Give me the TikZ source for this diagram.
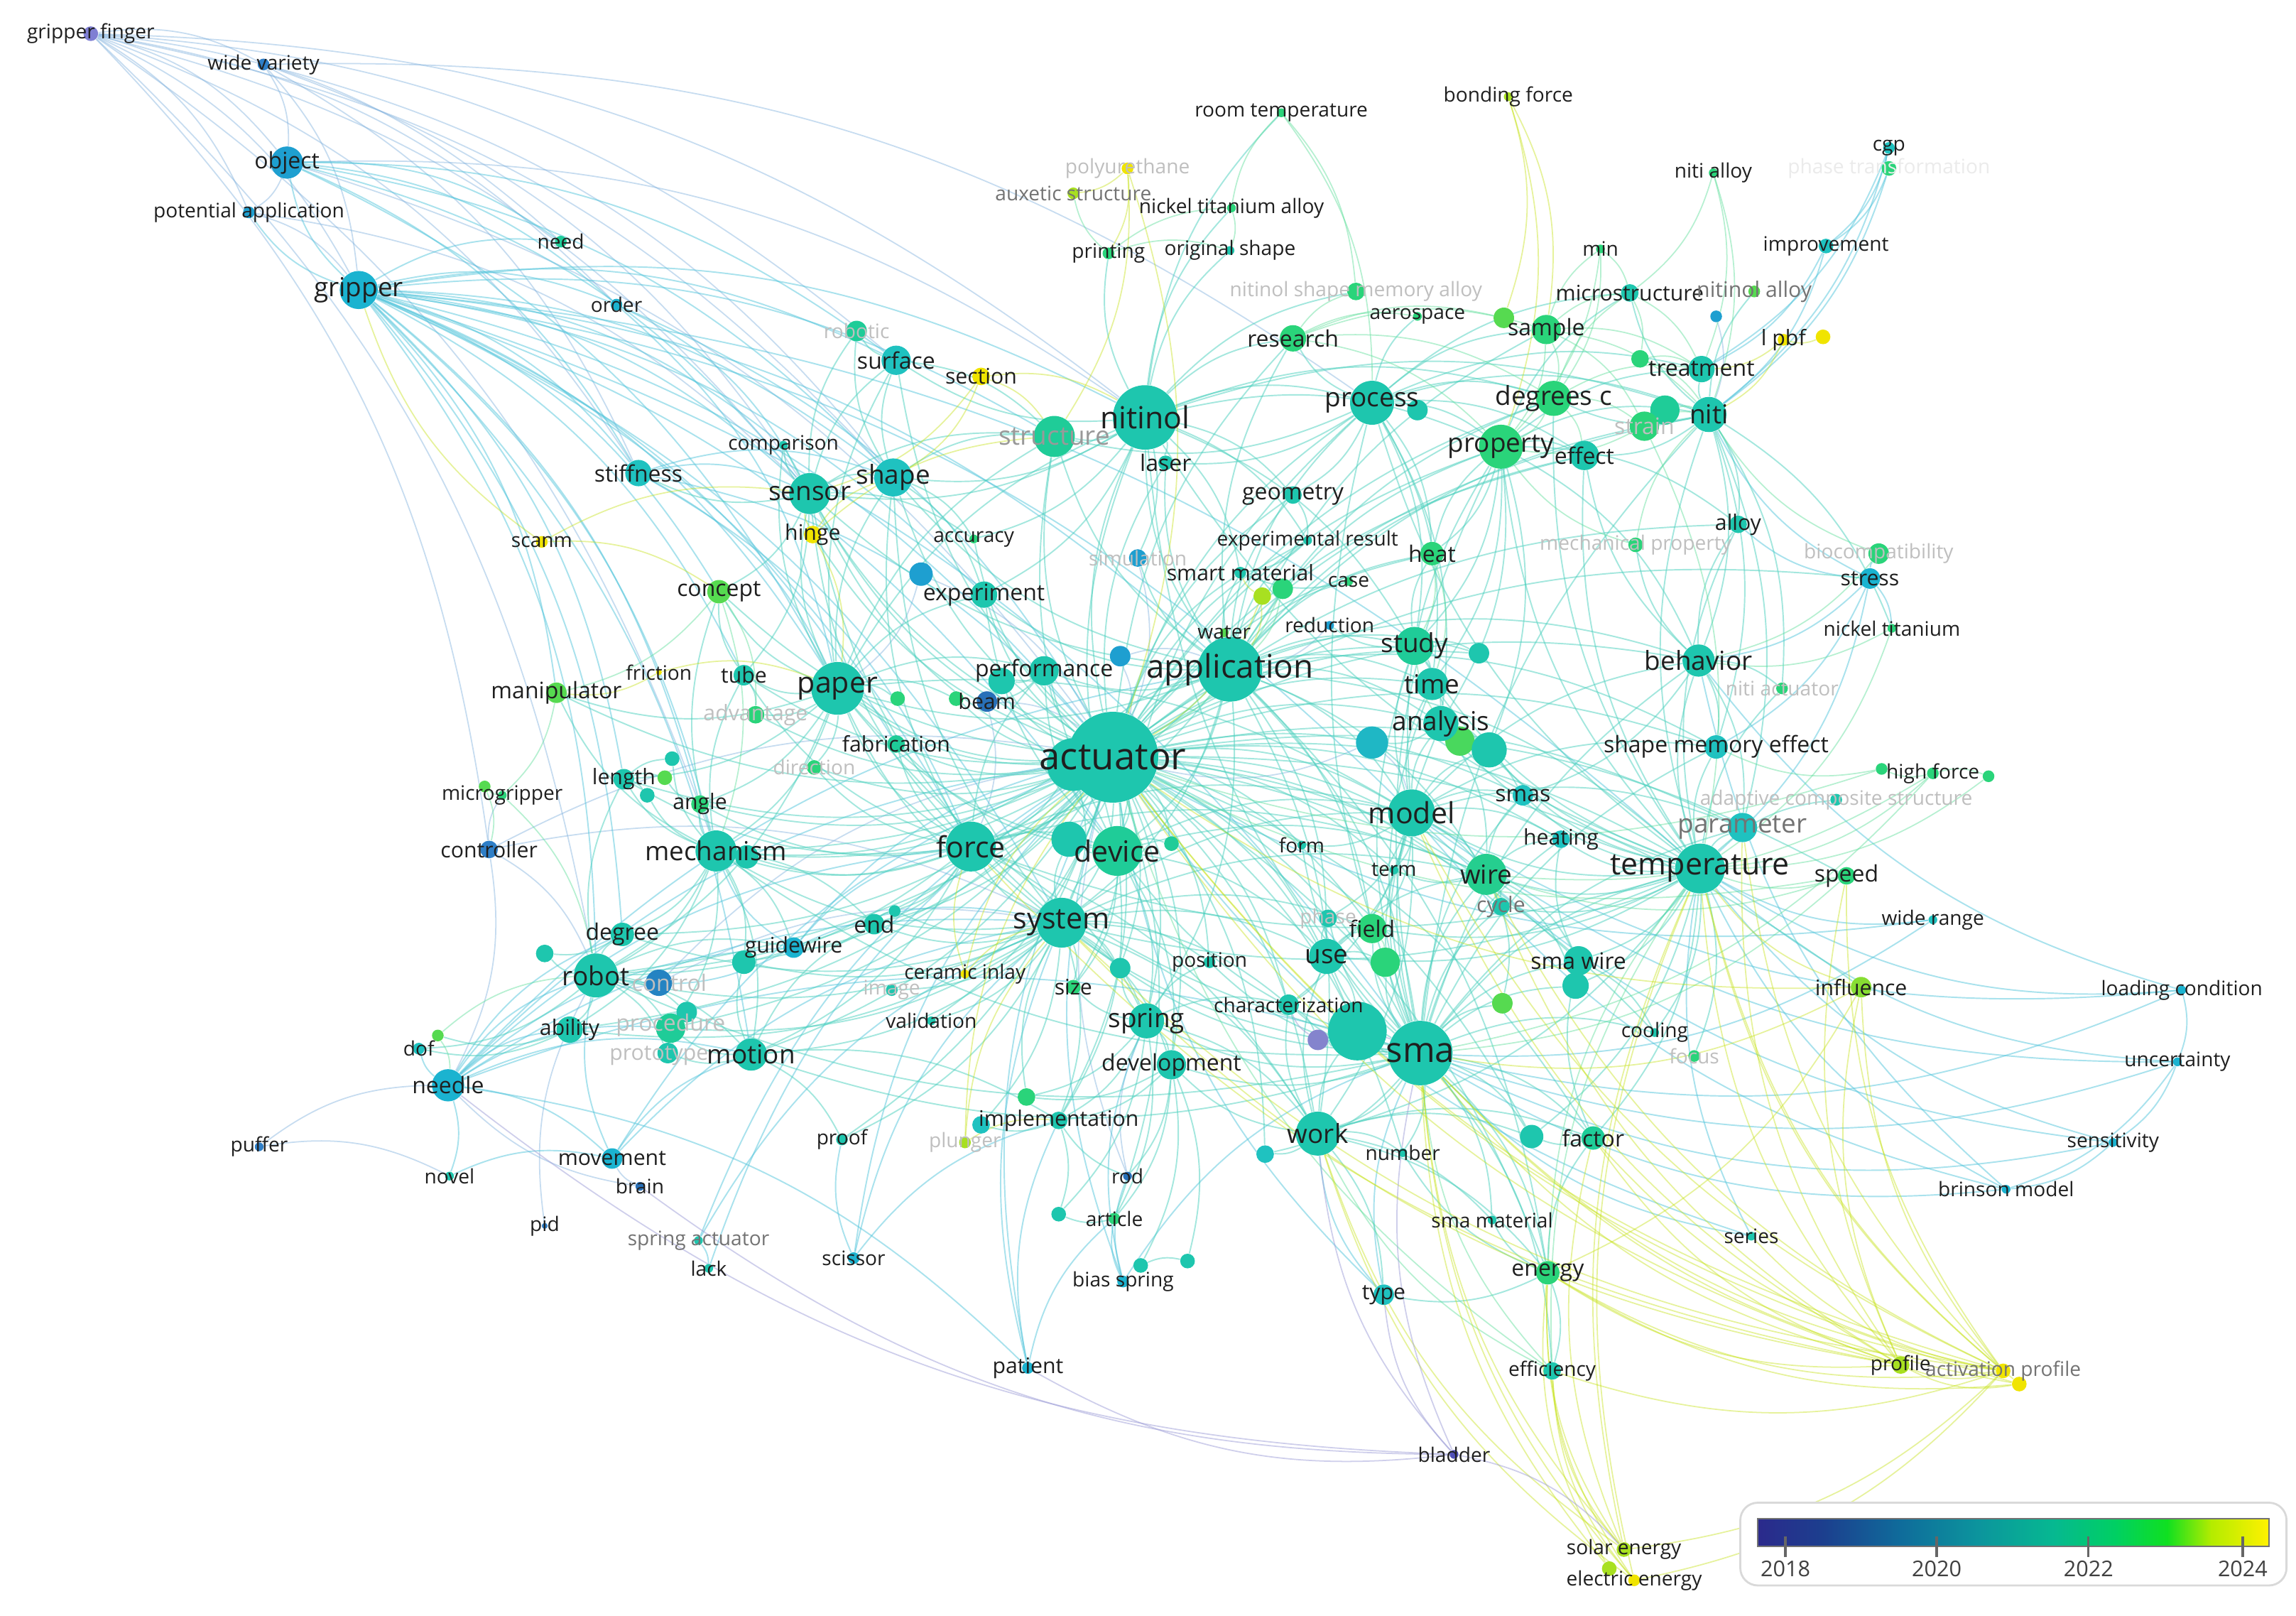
\documentclass[tikz,border=0pt]{standalone}
\usepackage{fontspec}
\setmainfont{Open Sans}
\pgfdeclarelayer{bgw}\pgfdeclarelayer{edges}\pgfdeclarelayer{labels}
\pgfsetlayers{bgw,edges,main,labels}
\definecolor{cA}{HTML}{4848C0}
\definecolor{cB}{HTML}{2F7FC8}
\definecolor{cC}{HTML}{1E9FD0}
\definecolor{cD}{HTML}{1BB3D0}
\definecolor{cE}{HTML}{1FC2C0}
\definecolor{cF}{HTML}{1EC6AE}
\definecolor{cG}{HTML}{1FCC98}
\definecolor{cH}{HTML}{2AD47A}
\definecolor{cI}{HTML}{56DA50}
\definecolor{cJ}{HTML}{A8E020}
\definecolor{cK}{HTML}{F0E400}
\definecolor{cP}{HTML}{5050B8}
\definecolor{cN}{HTML}{2870B8}
\definecolor{lg0}{HTML}{2B2A8C}
\definecolor{lg1}{HTML}{1C3F8E}
\definecolor{lg2}{HTML}{0F6C9B}
\definecolor{lg3}{HTML}{0C949D}
\definecolor{lg4}{HTML}{06B891}
\definecolor{lg5}{HTML}{00D062}
\definecolor{lg6}{HTML}{10E020}
\definecolor{lg7}{HTML}{B4EC00}
\definecolor{lg8}{HTML}{FFF100}
\tikzset{
 dot/.style={circle,inner sep=0pt,draw=none},
 lab/.style={inner sep=0pt,text=black!88},
 s8/.style={lab,font=\fontsize{8}{9}\selectfont},
 s86/.style={lab,font=\fontsize{8.6}{10}\selectfont},
 s9/.style={lab,font=\fontsize{9.1}{10.5}\selectfont},
 l3/.style={lab,font=\fontsize{10.5}{12}\selectfont},
 l4/.style={lab,font=\fontsize{11.7}{13}\selectfont},
 l5/.style={lab,font=\fontsize{12.2}{14}\selectfont},
 l6/.style={lab,font=\fontsize{13}{15}\selectfont},
 l7/.style={lab,font=\fontsize{14}{16}\selectfont},
 l8/.style={lab,font=\fontsize{15}{17}\selectfont},
 faint/.style={text=black!25},
 vfaint/.style={text=black!8},
 mid/.style={text=black!55},
 eT/.style={draw=cF!80!white,line width=0.55pt,opacity=0.5},
 eB/.style={draw=cB!60!white,line width=0.5pt,opacity=0.45},
 eC/.style={draw=cD!75!white,line width=0.55pt,opacity=0.5},
 eG/.style={draw=cH!75!white,line width=0.5pt,opacity=0.45},
 eY/.style={draw=cJ!60!cK,line width=0.5pt,opacity=0.42},
 eP/.style={draw=cP!55!white,line width=0.5pt,opacity=0.5},
 yr/.style={inner sep=0pt,text=black!75,font=\fontsize{8.7}{10}\selectfont}
}
\newcommand\kw[7]{%
 \node[dot,fill=#5,minimum size=#4*0.041238cm] (#1) at (#2,#3) {};%
 \begin{pgfonlayer}{labels}\node[#6] (#1-l) at (#1.center) {#7};\end{pgfonlayer}}
\newcommand\kwo[9]{%
 \node[dot,fill=#5,minimum size=#4*0.041238cm] (#1) at (#2,#3) {};%
 \begin{pgfonlayer}{labels}\node[#6] (#1-l) at ([shift={(#8,#9)}]#1.center) {#7};\end{pgfonlayer}}
\newcommand\dt[5]{\node[dot,fill=#5,minimum size=#4*0.041238cm] (#1) at (#2,#3) {};}
\begin{document}
\begin{tikzpicture}[x=0.020619cm,y=-0.020619cm]
\useasboundingbox (0,0) rectangle (1568,1103);
\begin{pgfonlayer}{bgw}\fill[white] (0,0) rectangle (1568,1103);\end{pgfonlayer}
% ---------------- nodes ----------------
\kw{grf}{62}{23}{5}{cA!70!white}{s8}{gripper finger}
\kw{wvar}{180}{44}{4}{cB}{s8}{wide variety}
\kw{obj}{196}{111}{11}{cC}{s9}{object}
\kw{potapp}{170}{145}{4}{cC}{s8}{potential application}
\kw{grip}{245}{198}{13}{cD}{l3}{gripper}
\kw{need}{383}{165}{4}{cG}{s8}{need}
\kw{order}{421}{208}{4}{cD}{s8}{order}
\kw{stiff}{436}{323}{9}{cE}{s9}{stiffness}
\kw{scanm}{370}{370}{4}{cK}{s8}{scanm}
\kw{robotic}{585}{226}{7}{cG}{s8,faint}{robotic}
\kw{surf}{612}{246}{10}{cE}{s9}{surface}
\kw{sect}{670}{257}{6}{cK}{s86}{section}
\kw{comp}{535}{304}{3}{cF}{s8}{comparison}
\kw{sensor}{553}{337}{14}{cF}{l3}{sensor}
\kw{shape}{610}{326}{13}{cE}{l3}{shape}
\kw{struct}{720}{298}{14}{cG}{l3,text=black!40}{structure}
\kw{nitinol}{782}{285}{22}{cF}{l5}{nitinol}
\kw{laser}{796}{316}{5}{cF}{s9}{laser}
\kw{hinge}{555}{365}{6}{cK}{s86}{hinge}
\kw{accur}{665}{368}{3}{cH}{s8}{accuracy}
\kw{concept}{491}{404}{8}{cI}{s9}{concept}
\kw{expt}{672}{406}{9}{cF}{s9}{experiment}
\dt{exptb}{629}{392}{8}{cC}
\kw{frict}{450}{459}{2}{cK}{s8}{friction}
\kw{manip}{380}{473}{7}{cI}{s9}{manipulator}
\kw{tube}{508}{461}{7}{cF}{s86}{tube}
\kw{paper}{572}{470}{18}{cF}{l4}{paper}
\kw{adv}{516}{488}{6}{cH}{s86,faint}{advantage}
\dt{gdot1}{613}{477}{5}{cH}
\dt{gdot2}{653}{477}{5}{cH}
\kw{beam}{674}{479}{7}{cN}{s86}{beam}
\dt{perf2}{684}{465}{9}{cF}
\kw{perf}{713}{458}{10}{cF}{s9}{performance}
\dt{bdot4}{765}{448}{7}{cC}
\kw{fabr}{612}{508}{6}{cG}{s86}{fabrication}
\kw{direct}{556}{524}{5}{cH}{s8,faint}{direction}
\dt{act2}{733}{522}{18}{cF}
\kw{act}{760}{517}{31}{cF}{l8}{actuator}
\kw{appl}{840}{457}{22}{cF}{l6}{application}
\kw{smartm}{847}{391}{4}{cF}{s86}{smart material}
\dt{ydot}{862}{407}{6}{cJ}
\dt{gdot3}{876}{402}{7}{cH}
\kw{case}{921}{397}{3}{cH}{s8}{case}
\kw{reduc}{908}{427}{3}{cC}{s8}{reduction}
\kw{water}{836}{432}{3}{cI}{s8}{water}
\kw{expres}{893}{369}{3}{cF}{s8}{experimental result}
\kw{geom}{883}{338}{6}{cF}{s9}{geometry}
\kw{heat}{978}{378}{8}{cH}{s9}{heat}
\kw{simul}{777}{381}{6}{cC}{s8,faint}{simulation}
\kw{study}{966}{441}{13}{cG}{l3}{study}
\dt{tdot1}{1010}{446}{7}{cF}
\kw{time}{978}{467}{11}{cF}{l3}{time}
\dt{gdot4}{997}{506}{10}{cI!70!cH}
\dt{bdot1}{937}{507}{11}{cE!70!cC}
\dt{tdot2}{1017}{512}{12}{cF}
\kw{anal}{984}{494}{12}{cF}{l3}{analysis}
\kw{process}{937}{275}{15}{cF}{l3}{process}
\dt{tdot3}{968}{280}{7}{cF}
\kw{research}{883}{231}{9}{cH}{s9}{research}
\kw{nsma}{926}{199}{6}{cH}{s8,faint}{nitinol shape memory alloy}
\kw{aero}{968}{216}{3}{cH}{s8}{aerospace}
\dt{gdot5}{1027}{217}{7}{cI}
\kw{sample}{1056}{225}{10}{cH}{s9}{sample}
\kw{min}{1093}{170}{3}{cH}{s8}{min}
\kw{micro}{1113}{200}{6}{cF}{s86}{microstructure}
\kw{nalloy}{1198}{199}{4}{cI}{s86,mid}{nitinol alloy}
\dt{bdot3}{1172}{216}{4}{cC}
\kw{degc}{1061}{272}{12}{cH}{l3}{degrees c}
\kw{prop}{1025}{305}{15}{cH}{l3}{property}
\kw{effect}{1082}{311}{10}{cF}{s9}{effect}
\dt{strain2}{1137}{280}{10}{cG}
\kw{strain}{1123}{291}{10}{cH}{s9,faint}{strain}
\kw{niti}{1167}{283}{12}{cF}{l3}{niti}
\dt{gdot6}{1120}{245}{6}{cH}
\kw{treat}{1162}{252}{9}{cF}{s9}{treatment}
\kw{lpbf}{1218}{232}{4}{cK}{s86}{l pbf}
\dt{lpbf2}{1245}{230}{5}{cK}
\kw{improv}{1247}{168}{5}{cE}{s8}{improvement}
\kw{cgp}{1290}{101}{4}{cE}{s8}{cgp}
\kw{phtr}{1290}{115}{5}{cH}{s8,vfaint}{phase transformation}
\kw{nialloy}{1170}{118}{3}{cH}{s8}{niti alloy}
\kw{roomt}{875}{77}{3}{cH}{s8}{room temperature}
\kw{bondf}{1030}{66}{3}{cJ}{s8}{bonding force}
\kw{polyu}{770}{115}{4}{cK}{s8,faint}{polyurethane}
\kw{auxet}{733}{132}{4}{cJ}{s8,mid}{auxetic structure}
\kw{nta}{841}{142}{3}{cH}{s8}{nickel titanium alloy}
\kw{print}{757}{173}{4}{cH}{s8}{printing}
\kw{origs}{840}{171}{3}{cF}{s8}{original shape}
\kw{alloy}{1187}{358}{6}{cF}{s86}{alloy}
\kw{mechp}{1117}{372}{5}{cH}{s8,faint}{mechanical property}
\kw{biocomp}{1283}{378}{7}{cH}{s8,faint}{biocompatibility}
\kw{stress}{1277}{395}{7}{cD}{s86}{stress}
\kw{nickt}{1292}{429}{3}{cH}{s8}{nickel titanium}
\kw{behav}{1160}{451}{11}{cF}{l3}{behavior}
\kw{nact}{1217}{470}{4}{cH}{s8,faint}{niti actuator}
\kw{sme}{1172}{510}{8}{cE}{s9}{shape memory effect}
\dt{hf1}{1285}{525}{4}{cH}
\dt{hf2}{1358}{530}{4}{cH}
\kw{hforce}{1320}{528}{4}{cH}{s8}{high force}
\kw{acs}{1254}{546}{4}{cF}{s8,faint}{adaptive composite structure}
\kw{param}{1190}{565}{10}{cE}{l3,mid}{parameter}
\kw{temp}{1161}{593}{17}{cF}{l5}{temperature}
\kw{speed}{1261}{598}{6}{cH}{s9}{speed}
\kw{wrange}{1320}{628}{3}{cE}{s8}{wide range}
\kw{influ}{1271}{674}{7}{cJ!60!cI}{s86}{influence}
\kw{loadc}{1490}{676}{3}{cD}{s8}{loading condition}
\kw{uncert}{1487}{725}{3}{cD}{s8}{uncertainty}
\kw{sensit}{1443}{780}{3}{cD}{s8}{sensitivity}
\kw{brinson}{1370}{812}{3}{cD}{s8}{brinson model}
\kw{series}{1196}{844}{3}{cF}{s8}{series}
\kw{profile}{1298}{932}{6}{cJ}{s8}{profile}
\dt{actp2}{1379}{945}{5}{cK}
\kw{actp}{1368}{936}{5}{cK}{s8,mid}{activation profile}
\dt{tdot4}{1046}{776}{8}{cF}
\kw{factor}{1088}{777}{8}{cG}{s9}{factor}
\dt{tdot5}{864}{788}{6}{cE}
\kw{work}{900}{774}{15}{cF}{l3}{work}
\kw{number}{958}{787}{3}{cF}{s8}{number}
\kw{smamat}{1019}{833}{3}{cF}{s8}{sma material}
\kw{energy}{1057}{869}{8}{cH}{s9}{energy}
\kw{type}{945}{884}{7}{cE}{s86}{type}
\kw{effic}{1060}{936}{6}{cF}{s8}{efficiency}
\kw{bladder}{993}{993}{3}{cP}{s8}{bladder}
\dt{ldot}{1099}{1071}{5}{cJ}
\kw{solar}{1109}{1058}{5}{cJ}{s8}{solar energy}
\kw{elec}{1116}{1079}{4}{cK}{s8}{electric energy}
\dt{bigdot}{927}{704}{20}{cF}
\dt{pdot}{900}{710}{7}{cP!70!white}
\kw{sma}{970}{719}{22}{cF}{l7}{sma}
\kw{charz}{880}{686}{7}{cF}{s8}{characterization}
\dt{gdot7}{946}{657}{10}{cH}
\kw{use}{906}{653}{12}{cF}{l3}{use}
\kw{field}{937}{634}{10}{cH}{s9}{field}
\kw{phase}{907}{627}{6}{cF}{s8,faint}{phase}
\kw{form}{889}{577}{3}{cF}{s8}{form}
\kw{term}{952}{594}{3}{cF}{s8}{term}
\kw{cycle}{1025}{619}{6}{cF}{s86,mid}{cycle}
\kw{wire}{1015}{597}{14}{cH!60!cF}{l3}{wire}
\kw{model}{964}{555}{16}{cF}{l4}{model}
\kw{smas}{1040}{543}{7}{cE}{s9}{smas}
\kw{heating}{1066}{573}{6}{cE}{s86}{heating}
\dt{tdot6}{1076}{673}{9}{cF}
\kw{smawire}{1078}{656}{10}{cF}{s9}{sma wire}
\dt{gdot8}{1026}{685}{7}{cI}
\kw{cooling}{1130}{705}{3}{cF}{s8}{cooling}
\kw{focus}{1157}{721}{4}{cH}{s8,faint}{focus}
\kw{position}{826}{657}{4}{cF}{s8}{position}
\kw{spring}{783}{697}{12}{cF}{l3}{spring}
\kw{devel}{800}{727}{10}{cF}{s9}{development}
\dt{dev2}{730}{573}{12}{cF}
\dt{tdot7}{800}{576}{5}{cG}
\kw{device}{763}{581}{17}{cG}{l4}{device}
\kw{system}{725}{630}{17}{cF}{l4}{system}
\kw{force}{663}{578}{17}{cF}{l4}{force}
\dt{tdot8}{611}{622}{4}{cF}
\kw{end}{597}{631}{7}{cF}{s9}{end}
\dt{tdot9}{508}{657}{8}{cF}
\kw{guide}{542}{647}{7}{cD}{s86}{guidewire}
\kw{ceram}{659}{665}{3}{cK}{s8}{ceramic inlay}
\kw{image}{609}{676}{4}{cF}{s8,faint}{image}
\kw{valid}{636}{697}{3}{cF}{s8}{validation}
\kw{size}{733}{674}{5}{cH}{s86}{size}
\dt{tdot10}{765}{661}{7}{cF}
\dt{mech2}{510}{585}{8}{cF}
\kw{mech}{489}{581}{14}{cF}{l3}{mechanism}
\dt{tdot11}{459}{518}{5}{cF}
\dt{gdot9}{454}{531}{5}{cI}
\dt{tdot12}{442}{543}{5}{cF}
\kw{length}{426}{532}{7}{cF}{s86}{length}
\kw{angle}{478}{549}{6}{cH}{s86}{angle}
\dt{gdot11}{331}{537}{4}{cI}
\kw{mgrip}{343}{543}{3}{cH}{s8}{microgripper}
\kw{ctrl}{334}{580}{6}{cB}{s86}{controller}
\kw{degree}{425}{638}{8}{cF}{s9}{degree}
\dt{tdot13}{372}{651}{6}{cF}
\kwo{control}{450}{671}{9}{cN!60!cC}{s9,faint}{control}{7}{0}
\kw{robot}{407}{666}{15}{cF}{l3}{robot}
\kw{ability}{389}{703}{9}{cF}{s86}{ability}
\dt{gdot10}{299}{707}{4}{cI}
\kw{dof}{286}{716}{4}{cE}{s8}{dof}
\kw{needle}{306}{741}{11}{cD}{s9}{needle}
\dt{proc2}{469}{691}{7}{cF}
\kwo{proc}{458}{702}{10}{cG}{s9,faint}{procedure}{0}{-2}
\kwo{proto}{456}{719}{7}{cF}{s86,faint}{prototype}{-6}{2}
\kw{motion}{513}{720}{11}{cF}{l3}{motion}
\dt{impl1}{701}{749}{6}{cH}
\dt{impl2}{670}{768}{6}{cE}
\kw{impl}{723}{765}{6}{cF}{s86}{implementation}
\kw{plunger}{659}{780}{4}{cJ}{s8,faint}{plunger}
\kw{proof}{575}{778}{4}{cF}{s8}{proof}
\kw{rod}{770}{803}{3}{cN}{s8}{rod}
\dt{tdot14}{723}{829}{5}{cF}
\kw{article}{761}{832}{4}{cH}{s8}{article}
\dt{bias2}{779}{864}{5}{cF}
\dt{bias3}{811}{861}{5}{cF}
\kw{bias}{767}{875}{4}{cD}{s8}{bias spring}
\kw{patient}{702}{934}{4}{cD}{s86}{patient}
\kw{scissor}{583}{859}{4}{cD}{s8}{scissor}
\kw{springact}{477}{847}{3}{cF}{s8,mid}{spring actuator}
\kw{lack}{484}{866}{3}{cF}{s8}{lack}
\kw{pid}{372}{837}{2}{cB}{s8}{pid}
\kw{brain}{437}{810}{3}{cN}{s8}{brain}
\kw{movement}{418}{791}{7}{cD}{s86}{movement}
\kw{novel}{307}{803}{3}{cF}{s8}{novel}
\kw{puffer}{177}{783}{3}{cB}{s8}{puffer}
% ---------------- edges ----------------
\begin{pgfonlayer}{edges}
\foreach \a/\b in {grf/wvar, grf/obj, grf/potapp, grf/grip, grf/stiff, grf/sensor, grf/mech, grf/robot, grf/need, grf/ctrl, grf/surf, grf/shape, grf/nitinol, grf/order,
 wvar/obj, wvar/grip, wvar/shape, wvar/sensor, wvar/stiff, wvar/process, obj/potapp, obj/nitinol, obj/act, potapp/grip, potapp/sensor,
 ctrl/robot, ctrl/act, ctrl/mgrip, ctrl/needle, ctrl/system, puffer/needle, puffer/novel, pid/robot, brain/movement, brain/needle, rod/spring, rod/act,
 exptb/act, exptb/paper, beam/act, beam/force, bdot4/appl, bdot4/act, bdot3/niti, control/robot, control/act, control/system, bdot1/model, bdot1/act, reduc/appl, simul/act}
 \draw[eB] (\a) to[bend left=18] (\b);
\foreach \a/\b in {grip/obj, grip/potapp, grip/need, grip/order, grip/stiff, grip/sensor, grip/shape, grip/paper, grip/act, grip/mech, grip/force, grip/system, grip/robot, grip/concept, grip/surf, grip/comp, grip/tube, grip/manip, grip/device, grip/appl, grip/temp, grip/sma, grip/length, grip/degree, grip/motion, grip/struct, grip/nitinol, grip/expt, grip/fabr, grip/angle, grip/model,
 obj/need, obj/order, obj/shape, obj/sensor, obj/surf, obj/stiff, obj/paper,
 needle/robot, needle/motion, needle/act, needle/system, needle/force, needle/movement, needle/dof, needle/novel, needle/ability, needle/sma, needle/guide, needle/degree, needle/appl, needle/patient, needle/proc,
 movement/robot, movement/motion, movement/act, movement/system, novel/movement, patient/act, patient/system, patient/impl, patient/article, scissor/proof, scissor/act, scissor/system, scissor/impl, guide/act, guide/system, guide/force, guide/robot, guide/mech,
 stress/behav, stress/temp, stress/niti, stress/nickt, stress/alloy, stress/sme, stress/biocomp,
 loadc/temp, loadc/uncert, loadc/sma, loadc/behav, loadc/model, uncert/sensit, uncert/temp, uncert/model, uncert/brinson, uncert/sma, sensit/temp, sensit/model, sensit/sma, sensit/brinson, brinson/temp, brinson/model, brinson/sma, brinson/behav, wrange/temp, wrange/sma, wrange/act, series/temp, series/sma, series/act,
 improv/niti, improv/treat, cgp/niti, cgp/improv, cgp/treat, phtr/niti, phtr/improv, phtr/cgp, type/work, type/sma, type/act, bias/spring, bias/act, bias/sma, bias/article, bias/rod,
 order/act, order/paper, order/sensor, stiff/paper, stiff/act, stiff/force, stiff/sensor, stiff/shape, springact/act, springact/lack, lack/act, springact/system}
 \draw[eC] (\a) to[bend left=18] (\b);
\foreach \a/\b in {act/appl, act/sma, act/temp, act/system, act/force, act/device, act/paper, act/model, act/nitinol, act/process, act/prop, act/wire, act/study, act/anal, act/mech, act/robot, act/sensor, act/shape, act/struct, act/niti, act/behav, act/spring, act/work, act/use, act/devel, act/motion, act/perf, act/fabr, act/expt, act/time, act/field, act/charz, act/smawire, act/concept, act/surf, act/tube, act/end, act/degree, act/length, act/size, act/position, act/impl, act/heat, act/research, act/geom, act/smartm, act/expres, act/smas, act/heating, act/param, act/sme, act/effect, act/degc, act/factor, act/energy, act/number, act/cooling, act/cycle, act/term, act/form, act/valid, act/ceram, act/proof, act/article, act/ability, act/proc, act/adv, act/direct, act/comp, act/laser, act/accur, act/tdot1, act/bigdot, act/tdot10, act/tdot7, act/dev2, act/act2, act/manip, act/angle, act/tdot9, act/hinge, act/stress, act/alloy, act/speed, act/influ, act/tdot4, act/tdot5, act/perf2, act/gdot2,
 act2/paper, act2/force, act2/system, act2/appl, act2/mech, act2/sensor,
 appl/sma, appl/temp, appl/system, appl/force, appl/device, appl/paper, appl/model, appl/nitinol, appl/process, appl/prop, appl/wire, appl/study, appl/anal, appl/sensor, appl/struct, appl/niti, appl/behav, appl/spring, appl/work, appl/use, appl/time, appl/heat, appl/smartm, appl/expres, appl/geom, appl/research, appl/perf, appl/water, appl/case, appl/sample, appl/degc, appl/effect, appl/mech, appl/robot, appl/field, appl/energy, appl/sme, appl/shape, appl/expt, appl/simul, appl/laser, appl/tdot1,
 sma/temp, sma/system, sma/force, sma/device, sma/paper, sma/model, sma/wire, sma/study, sma/anal, sma/spring, sma/work, sma/use, sma/charz, sma/field, sma/smawire, sma/cycle, sma/term, sma/heating, sma/cooling, sma/smas, sma/factor, sma/energy, sma/number, sma/smamat, sma/effic, sma/position, sma/devel, sma/robot, sma/motion, sma/mech, sma/param, sma/behav, sma/prop, sma/niti, sma/nitinol, sma/process, sma/sme, sma/tdot4, sma/tdot5, sma/bigdot, sma/gdot7, sma/gdot8, sma/tdot6, sma/time, sma/form, sma/phase,
 temp/system, temp/force, temp/model, temp/wire, temp/prop, temp/niti, temp/behav, temp/param, temp/sme, temp/smas, temp/heating, temp/cooling, temp/cycle, temp/smawire, temp/alloy, temp/effect, temp/degc, temp/study, temp/anal, temp/time, temp/factor, temp/work, temp/use, temp/field, temp/process, temp/nitinol, temp/tdot6, temp/tdot2, temp/tdot4, temp/focus, temp/acs, temp/nact,
 system/force, system/device, system/paper, system/model, system/spring, system/work, system/use, system/devel, system/motion, system/mech, system/robot, system/sensor, system/shape, system/end, system/size, system/position, system/impl, system/valid, system/image, system/charz, system/tdot10, system/ability, system/proc, system/degree, system/field, system/wire, system/tdot8, system/tdot9, system/proof, system/dev2, system/impl2,
 force/device, force/paper, force/model, force/spring, force/mech, force/robot, force/sensor, force/shape, force/end, force/tube, force/length, force/angle, force/fabr, force/perf, force/motion, force/wire, force/work, force/mech2, force/tdot8, force/direct,
 device/paper, device/model, device/spring, device/devel, device/impl, device/perf, device/fabr, device/expt, device/struct, device/nitinol, device/process, device/use, device/tdot7, device/size, device/wire, device/dev2,
 paper/sensor, paper/shape, paper/struct, paper/nitinol, paper/concept, paper/expt, paper/perf, paper/fabr, paper/tube, paper/adv, paper/mech, paper/manip, paper/surf, paper/gdot1, paper/gdot2, paper/length, paper/angle, paper/direct, paper/comp, paper/robot, paper/model,
 model/wire, model/study, model/anal, model/time, model/smas, model/heating, model/term, model/form, model/use, model/field, model/param, model/behav, model/sme, model/prop, model/work, model/charz, model/cycle, model/tdot2, model/phase,
 nitinol/struct, nitinol/laser, nitinol/process, nitinol/research, nitinol/print, nitinol/origs, nitinol/nta, nitinol/surf, nitinol/shape, nitinol/sensor, nitinol/geom, nitinol/expres, nitinol/smartm, nitinol/prop, nitinol/degc, nitinol/niti, nitinol/study, nitinol/roomt, nitinol/nsma, nitinol/simul, nitinol/expt, nitinol/accur,
 process/research, process/prop, process/degc, process/sample, process/micro, process/treat, process/niti, process/study, process/geom, process/laser, process/struct, process/effect, process/heat, process/aero, process/tdot3, process/time, process/anal,
 prop/effect, prop/niti, prop/micro, prop/treat, prop/alloy, prop/behav, prop/heat, prop/study, prop/anal, prop/time, prop/tdot2,
 niti/treat, niti/micro, niti/alloy, niti/behav, niti/effect, niti/degc, niti/nalloy, niti/nickt, niti/nact, niti/sme, niti/param,
 study/anal, study/time, study/heat, study/tdot1, study/reduc, time/anal, anal/tdot2, anal/bdot1, anal/gdot4, anal/smas, anal/wire,
 mech/mech2, mech/robot, mech/degree, mech/length, mech/angle, mech/motion, mech/tdot11, mech/tdot12, mech/guide, mech/tdot9, mech/ability, mech/proc, mech/manip, mech/concept, mech/tube, mech/end,
 robot/degree, robot/ability, robot/motion, robot/proc, robot/proc2, robot/proto, robot/tdot13, robot/dof, robot/guide, robot/length,
 motion/proc, motion/proto, motion/impl, motion/tdot9, motion/proof, motion/end,
 spring/devel, spring/size, spring/tdot10, spring/impl, spring/work, spring/charz, spring/position, spring/article, spring/tdot14, spring/impl1,
 work/number, work/type, work/energy, work/factor, work/tdot4, work/tdot5, work/smamat, work/devel, work/charz, work/use, work/bigdot,
 energy/effic, energy/factor, energy/smamat, energy/type, energy/number,
 use/field, use/bigdot, use/charz, use/phase, use/gdot7, use/wire,
 wire/smas, wire/heating, wire/cycle, wire/smawire, wire/term, wire/tdot6, wire/gdot8,
 behav/sme, behav/param, behav/alloy, behav/mechp, behav/nact, behav/effect, behav/smas,
 sensor/shape, sensor/surf, sensor/comp, sensor/stiff, sensor/struct, sensor/concept, sensor/tube, sensor/robotic, sensor/accur,
 shape/surf, shape/struct, shape/robotic, shape/expt, shape/accur, surf/robotic, surf/struct,
 devel/impl, devel/rod, devel/article, devel/bias2, devel/bias3, devel/impl1, impl/tdot14, impl/impl2, impl1/system,
 end/guide, end/tdot8, degree/tdot13, ability/gdot10, ability/dof, proc/proto,
 factor/tdot4, factor/smawire, smawire/tdot6, smawire/cooling, smawire/heating,
 geom/expres, expres/smartm, case/smartm, heat/prop, tube/adv, tube/concept, length/tdot11, length/gdot9, length/tdot12, angle/gdot9,
 bigdot/pdot, charz/pdot, article/tdot14, bias2/bias3, rod/impl, perf/perf2, perf/beam}
 \draw[eT] (\a) to[bend left=18] (\b);
\foreach \a/\b in {research/sample, research/prop, research/nsma, research/aero, research/degc, research/gdot5, sample/degc, sample/prop, sample/micro, sample/min, sample/gdot5, sample/treat, sample/niti, sample/strain,
 degc/prop, degc/strain, degc/effect, degc/treat, degc/micro, min/micro, min/prop, min/degc, micro/treat, micro/gdot6, strain/niti, strain/prop, strain2/niti, strain/temp, gdot6/treat, gdot6/niti,
 print/nta, print/origs, print/auxet, nta/origs, nta/roomt, roomt/nsma, roomt/process, nialloy/niti, nialloy/treat, nialloy/micro, nickt/behav, nickt/temp, biocomp/niti, biocomp/behav, mechp/niti, mechp/prop,
 hforce/temp, hforce/hf1, hforce/hf2, hf1/sme, hf2/temp, hforce/sma, hforce/wire, hf1/act, speed/temp, speed/sma, speed/act, speed/wire, energy/temp, effic/work, effic/sma, effic/temp, effic/act,
 heat/study, heat/time, gdot3/appl, gdot3/act, field/gdot7, gdot4/study, concept/manip, concept/adv, concept/mech, manip/mgrip, mgrip/gdot11, gdot11/ctrl, mgrip/robot, gdot10/robot, gdot10/needle}
 \draw[eG] (\a) to[bend left=18] (\b);
\foreach \a/\b in {actp/temp, actp/sma, actp/wire, actp/model, actp/act, actp/energy, actp/influ, actp/speed, actp/profile, actp/solar, actp/elec, actp/effic, actp/series, actp/factor, actp/system, actp/param,
 actp2/profile, actp2/temp, actp2/sma, actp2/act, actp2/energy, profile/temp, profile/sma, profile/wire, profile/model, profile/act, profile/energy, profile/force, profile/influ, profile/param, profile/speed, profile/system, profile/factor,
 solar/energy, solar/effic, solar/sma, solar/temp, solar/factor, solar/work, elec/energy, elec/work, elec/sma, elec/temp, elec/effic, ldot/energy, ldot/sma,
 bondf/sample, bondf/prop, bondf/gdot5, polyu/auxet, polyu/print, polyu/struct, polyu/act, sect/shape, sect/nitinol, sect/sensor, sect/struct, hinge/sensor, hinge/shape, hinge/paper, hinge/struct,
 scanm/grip, scanm/sensor, scanm/concept, frict/manip, frict/paper, ceram/force, ceram/system, ceram/act, lpbf/niti, lpbf/treat, lpbf2/lpbf, ydot/appl, ydot/smartm, ydot/act,
 plunger/impl, plunger/system, plunger/act, influ/energy, influ/sma, influ/temp, influ/act}
 \draw[eY] (\a) to[bend left=18] (\b);
\foreach \a/\b in {bladder/sma, bladder/work, bladder/type, bladder/brain, bladder/patient, pdot/sma, pdot/charz, bladder/solar, bladder/needle}
 \draw[eP] (\a) to[bend left=18] (\b);
\end{pgfonlayer}
% ---------------- legend ----------------
\draw[rounded corners=7pt,draw=black!15,line width=0.8pt,fill=white] (1188.5,1026) rectangle (1561.5,1082.5);
\fill[left color=lg0,right color=lg1] (1200.5,1037) rectangle (1245.3,1055.9);
\fill[left color=lg1,right color=lg2] (1245,1037) rectangle (1298.3,1055.9);
\fill[left color=lg2,right color=lg3] (1298,1037) rectangle (1350.3,1055.9);
\fill[left color=lg3,right color=lg4] (1350,1037) rectangle (1402.3,1055.9);
\fill[left color=lg4,right color=lg5] (1402,1037) rectangle (1445.3,1055.9);
\fill[left color=lg5,right color=lg6] (1445,1037) rectangle (1480.3,1055.9);
\fill[left color=lg6,right color=lg7] (1480,1037) rectangle (1510.3,1055.9);
\fill[left color=lg7,right color=lg8] (1510,1037) rectangle (1549.4,1055.9);
\draw[black!55,line width=0.6pt] (1200.5,1037) rectangle (1549.4,1055.9);
\foreach \x in {1219.3,1322.6,1426.3,1531.6} \draw[black!60,line width=0.9pt] (\x,1049) -- (\x,1063);
\node[yr] (y2018) at (1219.3,1071) {2018};
\node[yr] (y2020) at (1322.6,1071) {2020};
\node[yr] (y2022) at (1426.3,1071) {2022};
\node[yr] (y2024) at (1531.6,1071) {2024};
\end{tikzpicture}
\end{document}
